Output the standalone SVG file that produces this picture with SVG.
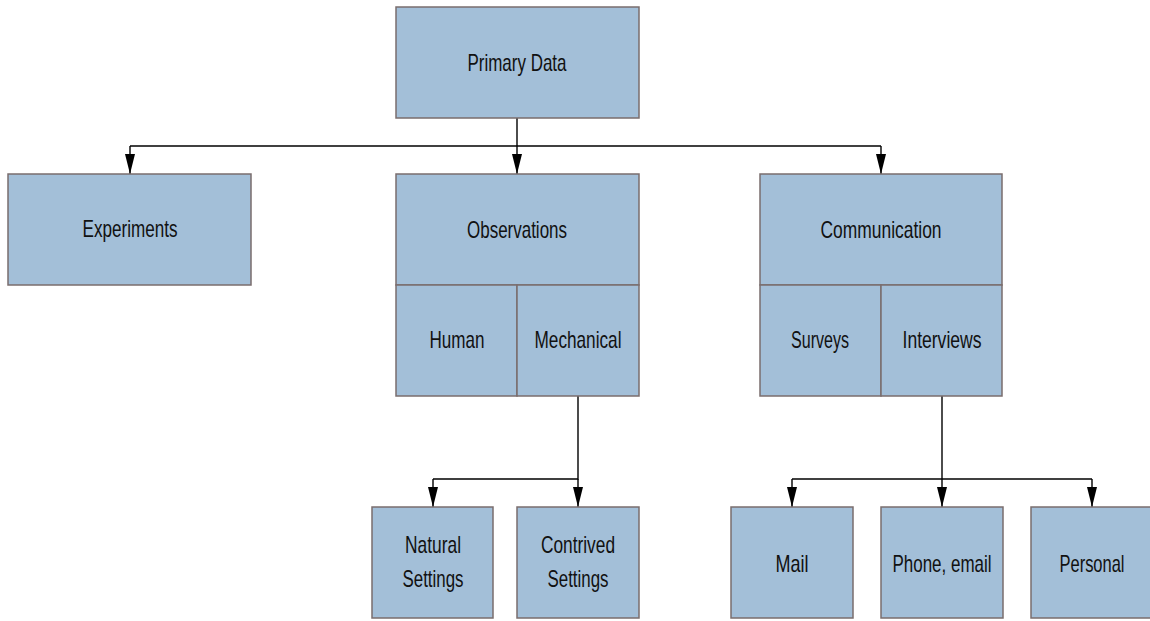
<svg xmlns="http://www.w3.org/2000/svg" width="1150" height="621" viewBox="0 0 1150 621">
  <style>
    .box { fill: #a3bfd8; stroke: #7a6d6d; stroke-width: 1.5; }
    .lbl { font-family: "Liberation Sans", Arial, sans-serif; font-size: 24px; fill: #111; text-anchor: middle; }
    .wire { fill: none; stroke: #000; stroke-width: 1.4; }
  </style>
  <defs>
    <!-- long narrow filled arrowhead, tip at the end of the line -->
    <marker id="arrow" viewBox="0 0 20 10" refX="20" refY="5" markerWidth="20" markerHeight="10" markerUnits="userSpaceOnUse" orient="auto">
      <path d="M0,0 L20,5 L0,10 Z" fill="#000"/>
    </marker>
  </defs>

  <rect width="1150" height="621" fill="#fff"/>

  <!-- connectors -->
  <g id="connectors">
    <path class="wire" d="M517,118 V146"/>
    <path class="wire" d="M130,146 H881"/>
    <path class="wire" d="M130,146 V174" marker-end="url(#arrow)"/>
    <path class="wire" d="M517,146 V174" marker-end="url(#arrow)"/>
    <path class="wire" d="M881,146 V174" marker-end="url(#arrow)"/>

    <path class="wire" d="M578,396 V479 H433"/>
    <path class="wire" d="M433,479 V507" marker-end="url(#arrow)"/>
    <path class="wire" d="M578,479 V507" marker-end="url(#arrow)"/>

    <path class="wire" d="M942,396 V479"/>
    <path class="wire" d="M792,479 H1092"/>
    <path class="wire" d="M792,479 V507" marker-end="url(#arrow)"/>
    <path class="wire" d="M942,479 V507" marker-end="url(#arrow)"/>
    <path class="wire" d="M1092,479 V507" marker-end="url(#arrow)"/>
  </g>

  <!-- root -->
  <g id="primary-data">
    <rect class="box" x="396" y="7" width="243" height="111"/>
    <text class="lbl" x="517" y="71" textLength="99" lengthAdjust="spacingAndGlyphs">Primary Data</text>
  </g>

  <g id="experiments">
    <rect class="box" x="8" y="174" width="243" height="111"/>
    <text class="lbl" x="130" y="237" textLength="95" lengthAdjust="spacingAndGlyphs">Experiments</text>
  </g>

  <g id="observations">
    <rect class="box" x="396" y="174" width="243" height="111"/>
    <text class="lbl" x="517" y="238" textLength="100" lengthAdjust="spacingAndGlyphs">Observations</text>
  </g>
  <g id="human">
    <rect class="box" x="396" y="285" width="121" height="111"/>
    <text class="lbl" x="457" y="348" textLength="55" lengthAdjust="spacingAndGlyphs">Human</text>
  </g>
  <g id="mechanical">
    <rect class="box" x="517" y="285" width="122" height="111"/>
    <text class="lbl" x="578" y="348" textLength="87" lengthAdjust="spacingAndGlyphs">Mechanical</text>
  </g>

  <g id="communication">
    <rect class="box" x="760" y="174" width="242" height="111"/>
    <text class="lbl" x="881" y="238" textLength="121" lengthAdjust="spacingAndGlyphs">Communication</text>
  </g>
  <g id="surveys">
    <rect class="box" x="760" y="285" width="121" height="111"/>
    <text class="lbl" x="820" y="348" textLength="58" lengthAdjust="spacingAndGlyphs">Surveys</text>
  </g>
  <g id="interviews">
    <rect class="box" x="881" y="285" width="121" height="111"/>
    <text class="lbl" x="942" y="348" textLength="79" lengthAdjust="spacingAndGlyphs">Interviews</text>
  </g>

  <g id="natural-settings">
    <rect class="box" x="372" y="507" width="121" height="111"/>
    <text class="lbl" x="433" y="553" textLength="56" lengthAdjust="spacingAndGlyphs">Natural</text>
    <text class="lbl" x="433" y="587" textLength="61" lengthAdjust="spacingAndGlyphs">Settings</text>
  </g>
  <g id="contrived-settings">
    <rect class="box" x="517" y="507" width="122" height="111"/>
    <text class="lbl" x="578" y="553" textLength="74" lengthAdjust="spacingAndGlyphs">Contrived</text>
    <text class="lbl" x="578" y="587" textLength="61" lengthAdjust="spacingAndGlyphs">Settings</text>
  </g>

  <g id="mail">
    <rect class="box" x="731" y="507" width="122" height="111"/>
    <text class="lbl" x="792" y="572" textLength="33" lengthAdjust="spacingAndGlyphs">Mail</text>
  </g>
  <g id="phone-email">
    <rect class="box" x="881" y="507" width="122" height="111"/>
    <text class="lbl" x="942" y="572" textLength="99" lengthAdjust="spacingAndGlyphs">Phone, email</text>
  </g>
  <g id="personal">
    <rect class="box" x="1031" y="507" width="122" height="111"/>
    <text class="lbl" x="1092" y="572" textLength="65" lengthAdjust="spacingAndGlyphs">Personal</text>
  </g>
</svg>
